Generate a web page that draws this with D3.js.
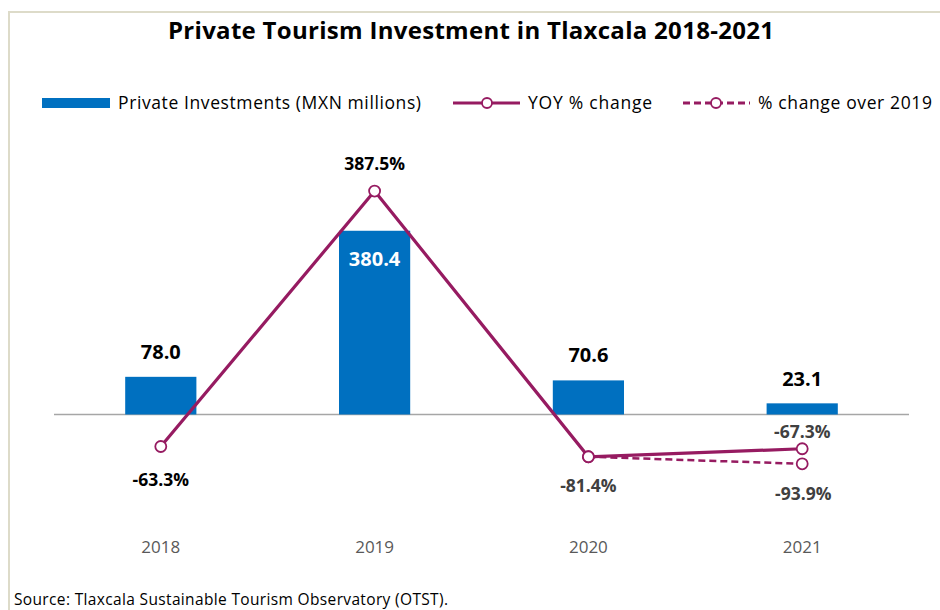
<!DOCTYPE html>
<html>
<head>
<meta charset="utf-8">
<script src="https://cdn.jsdelivr.net/npm/d3@7"></script>
<style>
  html, body { margin: 0; padding: 0; background: #fff; }
  svg { display: block; font-family: "Open Sans", Lato, sans-serif; }
</style>
</head>
<body>
<svg id="chart" width="940" height="610"></svg>
<script>
// Chart data
const years = ["2018", "2019", "2020", "2021"];
const investments = [78.0, 380.4, 70.6, 23.1];           // MXN millions
const yoyChange = [-63.3, 387.5, -81.4, -67.3];           // % vs previous year
const changeYears2019 = ["2020", "2021"];
const changeOver2019 = [-81.4, -93.9];                    // % vs 2019

const title = "Private Tourism Investment in Tlaxcala 2018-2021";
const legendLabels = ["Private Investments (MXN millions)", "YOY % change", "% change over 2019"];
const sourceNote = "Source: Tlaxcala Sustainable Tourism Observatory (OTST).";

const barColor = "#0070c0";
const lineColor = "#961b61";

const svg = d3.select("#chart");

// Stretch a text's letter spacing so it spans the given width
function fitWidth(sel, w) {
  sel.each(function () {
    const len = this.getComputedTextLength();
    if (len < w) d3.select(this).attr("textLength", w).attr("lengthAdjust", "spacing");
  });
  return sel;
}

// Outer frame (top and left edges visible)
svg.append("path")
  .attr("d", "M9,610 L9,12 L940,12")
  .attr("fill", "none")
  .attr("stroke", "#dddbc9")
  .attr("stroke-width", 2);

// Title
svg.append("text")
  .attr("x", 471).attr("y", 39)
  .attr("text-anchor", "middle")
  .attr("font-size", 24).attr("font-weight", 700)
  .attr("fill", "#000")
  .text(title)
  .call(fitWidth, 606);

// Scales
const x = d3.scaleBand().domain(years).range([54, 909]).paddingInner(0.667).paddingOuter(0.333);
const yBar = d3.scaleLinear().domain([0, 400]).range([414.5, 221.3]);
const yPct = d3.scaleLinear().domain([-100, 400]).range([467.3, 184]);

const cx = d => x(d) + x.bandwidth() / 2;

// Category baseline
svg.append("line")
  .attr("x1", 54).attr("x2", 909)
  .attr("y1", yBar(0)).attr("y2", yBar(0))
  .attr("stroke", "#a6a6a6").attr("stroke-width", 1.5);

// Bars
svg.append("g").selectAll("rect").data(years).join("rect")
  .attr("x", d => x(d))
  .attr("width", x.bandwidth())
  .attr("y", (d, i) => yBar(investments[i]))
  .attr("height", (d, i) => yBar(0) - yBar(investments[i]))
  .attr("fill", barColor);

// X axis labels
const xAxis = d3.axisBottom(x).tickSize(0).tickPadding(0);
svg.append("g")
  .attr("transform", `translate(0,${yBar(0)})`)
  .call(xAxis)
  .call(g => g.select(".domain").remove())
  .call(g => g.selectAll("text")
    .attr("dy", 0).attr("y", 138)
    .attr("font-family", "'Open Sans', Lato, sans-serif")
    .attr("font-size", 17).attr("fill", "#595959"));

// Lines
const line = d3.line().x(d => cx(d[0])).y(d => yPct(d[1]));
const yoyPts = years.map((y, i) => [y, yoyChange[i]]);
const o19Pts = changeYears2019.map((y, i) => [y, changeOver2019[i]]);

svg.append("path").datum(o19Pts)
  .attr("d", line).attr("fill", "none")
  .attr("stroke", lineColor).attr("stroke-width", 2.5)
  .attr("stroke-dasharray", "7,4");
svg.append("path").datum(yoyPts)
  .attr("d", line).attr("fill", "none")
  .attr("stroke", lineColor).attr("stroke-width", 3.2);

svg.append("g").selectAll("circle").data(yoyPts.concat(o19Pts)).join("circle")
  .attr("cx", d => cx(d[0])).attr("cy", d => yPct(d[1]))
  .attr("r", 5.5)
  .attr("fill", "#fff").attr("stroke", lineColor).attr("stroke-width", 1.8);

// Bar value labels
const barLabelOffsets = [-18, 0, -18, -17];
svg.append("g").selectAll("text").data(years).join("text")
  .attr("x", d => cx(d))
  .attr("y", (d, i) => i === 1 ? yBar(investments[i]) + 35 : yBar(investments[i]) + barLabelOffsets[i])
  .attr("text-anchor", "middle")
  .attr("font-size", 20).attr("font-weight", 700)
  .attr("fill", (d, i) => i === 1 ? "#fff" : "#000")
  .text((d, i) => investments[i].toFixed(1));

// Percent labels
const pctLabels = [
  { year: "2018", value: yoyChange[0], dy: 39, color: "#000" },
  { year: "2019", value: yoyChange[1], dy: -21, color: "#000" },
  { year: "2020", value: yoyChange[2], dy: 35, color: "#404040" },
  { year: "2021", value: yoyChange[3], dy: -11, color: "#404040" },
  { year: "2021", value: changeOver2019[1], dy: 36, color: "#404040" }
];
svg.append("g").selectAll("text").data(pctLabels).join("text")
  .attr("x", d => cx(d.year) + (d.value === changeOver2019[1] ? 1 : 0))
  .attr("y", d => yPct(d.value) + d.dy)
  .attr("text-anchor", "middle")
  .attr("font-size", 17.5).attr("font-weight", 700)
  .attr("fill", d => d.color)
  .text(d => d.value.toFixed(1) + "%");

// Legend
const lg = svg.append("g").attr("font-size", 17.5).attr("fill", "#000");
lg.append("rect").attr("x", 42).attr("y", 98).attr("width", 68).attr("height", 10).attr("fill", barColor);
lg.append("text").attr("x", 118).attr("y", 109).text(legendLabels[0]).call(fitWidth, 303);

lg.append("line").attr("x1", 453).attr("x2", 520).attr("y1", 103).attr("y2", 103)
  .attr("stroke", lineColor).attr("stroke-width", 3.2);
lg.append("circle").attr("cx", 487).attr("cy", 103).attr("r", 5)
  .attr("fill", "#fff").attr("stroke", lineColor).attr("stroke-width", 1.8);
lg.append("text").attr("x", 528).attr("y", 109).text(legendLabels[1]).call(fitWidth, 124);

lg.append("line").attr("x1", 683).attr("x2", 750).attr("y1", 103).attr("y2", 103)
  .attr("stroke", lineColor).attr("stroke-width", 3).attr("stroke-dasharray", "7,4");
lg.append("circle").attr("cx", 716).attr("cy", 103).attr("r", 5)
  .attr("fill", "#fff").attr("stroke", lineColor).attr("stroke-width", 1.8);
lg.append("text").attr("x", 758).attr("y", 109).text(legendLabels[2]).call(fitWidth, 174);

// Source note
svg.append("text")
  .attr("x", 14).attr("y", 605)
  .attr("font-size", 15.5).attr("fill", "#000")
  .text(sourceNote)
  .call(fitWidth, 434);
</script>
</body>
</html>
